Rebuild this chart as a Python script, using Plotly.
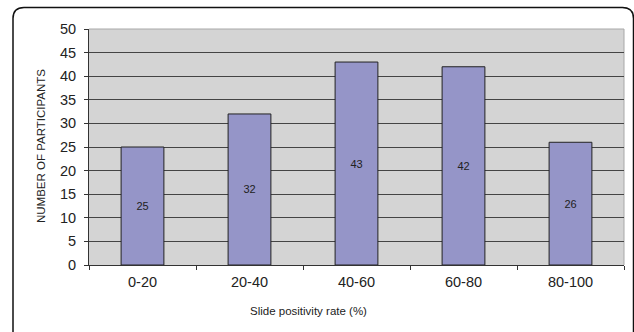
import plotly.graph_objects as go

categories = ["0-20", "20-40", "40-60", "60-80", "80-100"]
participants = [25, 32, 43, 42, 26]
y_ticks = list(range(0, 55, 5))

W, H = 634, 332
L, R, T, B = 89, 10, 29, 67
pw, ph = W - L - R, H - T - B


def px_x(x):
    return (x - L) / pw


def px_y(y):
    return 1 - (y - T) / ph


fig = go.Figure(
    go.Bar(
        x=categories,
        y=participants,
        width=0.4,
        marker=dict(color="#9595c8", line=dict(color="#222222", width=1)),
        text=[str(v) for v in participants],
        textposition="inside",
        insidetextanchor="middle",
        textfont=dict(family="Liberation Sans, Arial", size=11, color="#222222"),
        hoverinfo="skip",
    )
)

# rounded outer frame (bottom edge runs past the page)
x0, x1 = px_x(13), px_x(633.5)
y0, y1 = px_y(7.5), px_y(345)
rx, ry = 11 / pw, 11 / ph
frame = (
    f"M {x0},{y1} L {x0},{y0 - ry} Q {x0},{y0} {x0 + rx},{y0} "
    f"L {x1 - rx},{y0} Q {x1},{y0} {x1},{y0 - ry} L {x1},{y1}"
)
fig.add_shape(type="path", path=frame, xref="paper", yref="paper",
              line=dict(color="#111111", width=1.5), layer="below")

# plot-area border on the top and right
fig.add_shape(type="path", xref="paper", yref="paper",
              path="M 0,1 L 1,1 L 1,0",
              line=dict(color="#a8a8a8", width=1), layer="below")

fig.add_annotation(text="NUMBER OF PARTICIPANTS", textangle=-90,
                   x=px_x(33), y=px_y(146), xref="paper", yref="paper",
                   showarrow=False,
                   font=dict(family="Liberation Sans, Arial", size=11.5, color="#222222"))
fig.add_annotation(text="Slide positivity rate (%)",
                   x=px_x(308), y=px_y(319), xref="paper", yref="paper",
                   showarrow=False,
                   font=dict(family="Liberation Sans, Arial", size=11.5, color="#222222"))

fig.update_layout(
    width=W, height=H,
    margin=dict(l=L, r=R, t=T, b=B, pad=0),
    paper_bgcolor="white",
    plot_bgcolor="#d4d4d4",
    showlegend=False,
    bargap=0.6,
    font=dict(family="Liberation Sans, Arial", color="#222222"),
)
fig.update_xaxes(
    type="category",
    tickson="boundaries",
    ticks="outside", ticklen=4, tickcolor="#333333",
    ticklabelstandoff=4,
    showgrid=False,
    showline=True, linecolor="#333333", linewidth=1,
    tickfont=dict(size=14.5, color="#222222"),
    fixedrange=True,
)
fig.update_yaxes(
    range=[0, 50],
    tickvals=y_ticks,
    ticks="outside", ticklen=4, tickcolor="#333333",
    ticklabelstandoff=5,
    showgrid=True, gridcolor="#444444", gridwidth=1,
    showline=True, linecolor="#333333", linewidth=1,
    zeroline=False,
    tickfont=dict(size=14.5, color="#222222"),
    fixedrange=True,
)

fig.write_html("out.html", config={"displayModeBar": False})
